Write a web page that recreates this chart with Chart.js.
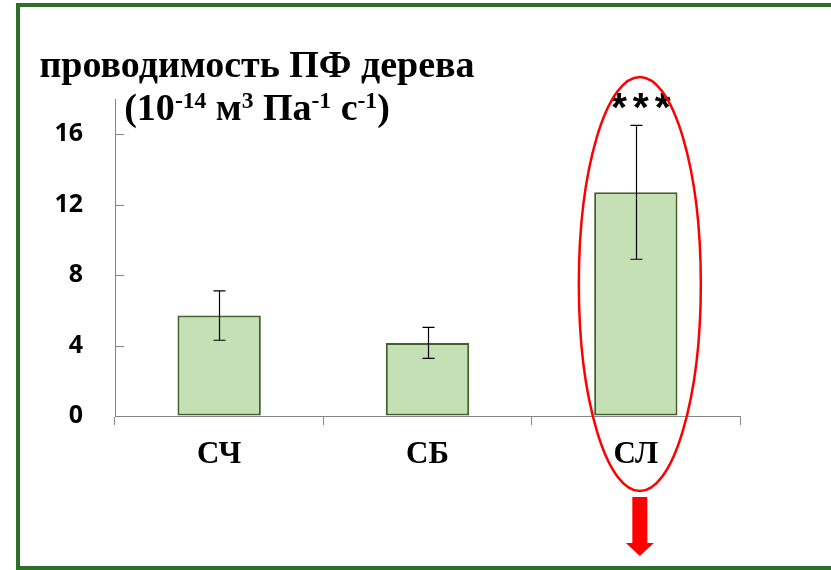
<!DOCTYPE html>
<html>
<head>
<meta charset="utf-8">
<script src="https://cdn.jsdelivr.net/npm/chart.js@4"></script>
<style>
  html, body { margin: 0; padding: 0; background: #fff; }
  #wrap { position: relative; width: 831px; height: 570px; overflow: hidden; }
  #frame { position: absolute; left: 16px; top: 3px; width: 900px; height: 559px;
           border: 4px solid #2e6f2a; }
  canvas { position: absolute; left: 0; top: 0; }
  .ttl { position: absolute; left: 0; width: 514px; text-align: center;
         font-family: "Liberation Serif", "Times New Roman", serif; font-weight: bold;
         font-size: 38px; line-height: 38px; color: #000; white-space: nowrap; }
  .ttl sup { font-size: 0.62em; vertical-align: baseline; position: relative; top: -0.5em; }
</style>
</head>
<body>
<div id="wrap">
  <div id="frame"></div>
  <canvas id="c" width="831" height="570"></canvas>
  <div class="ttl" style="top:45px">проводимость ПФ дерева</div>
  <div class="ttl" style="top:88px">(10<sup>-14</sup> м<sup>3</sup> Па<sup>-1</sup> с<sup>-1</sup>)</div>
</div>
<script>
// Hydraulic conductance of the tree by group
const categories = ['СЧ', 'СБ', 'СЛ'];
const meanValues = [5.7, 4.15, 12.7];
const errValues = [1.4, 0.88, 3.8];
const yTicks = [0, 4, 8, 12, 16];
const significance = ['', '', '***'];
const highlightIndex = 2;

const AXIS_GREY = '#868686';

// error bars drawn from the y scale
const errorBars = {
  id: 'errorBars',
  afterDatasetsDraw(chart) {
    const meta = chart.getDatasetMeta(0);
    const ys = chart.scales.y;
    const ctx = chart.ctx;
    ctx.save();
    ctx.strokeStyle = '#000';
    ctx.lineWidth = 1.2;
    meta.data.forEach((bar, i) => {
      const v = meanValues[i], e = errValues[i];
      const yt = ys.getPixelForValue(v + e);
      const yb = ys.getPixelForValue(v - e);
      const x = Math.round(bar.x) + 0.5;
      ctx.beginPath();
      ctx.moveTo(x, yt); ctx.lineTo(x, yb);
      ctx.moveTo(x - 6, yt); ctx.lineTo(x + 6, yt);
      ctx.moveTo(x - 6, yb); ctx.lineTo(x + 6, yb);
      ctx.stroke();
    });
    ctx.restore();
  }
};

// inward tick marks on the value axis
const innerTicks = {
  id: 'innerTicks',
  afterDraw(chart) {
    const ys = chart.scales.y;
    const left = chart.chartArea.left;
    const ctx = chart.ctx;
    ctx.save();
    ctx.strokeStyle = AXIS_GREY;
    ctx.lineWidth = 1;
    yTicks.forEach(t => {
      const y = Math.round(ys.getPixelForValue(t)) + 0.5;
      ctx.beginPath();
      ctx.moveTo(left, y); ctx.lineTo(left + 9, y);
      ctx.stroke();
    });
    ctx.restore();
  }
};

// significance stars, red ellipse and arrow around the highlighted group
const highlight = {
  id: 'highlight',
  afterDraw(chart) {
    const meta = chart.getDatasetMeta(0);
    const ys = chart.scales.y;
    const ctx = chart.ctx;
    const base = ys.getPixelForValue(0);
    ctx.save();
    meta.data.forEach((bar, i) => {
      if (!significance[i]) return;
      ctx.fillStyle = '#000';
      ctx.font = 'bold 41px "Liberation Sans", Arial, sans-serif';
      ctx.letterSpacing = '6px';
      ctx.textAlign = 'center';
      ctx.textBaseline = 'alphabetic';
      ctx.fillText(significance[i], bar.x + 8, ys.top + 22);
    });
    ctx.letterSpacing = '0px';
    const bar = meta.data[highlightIndex];
    const cx = bar.x + 4;
    const cy = base - 132;
    ctx.strokeStyle = '#ff0000';
    ctx.lineWidth = 2.5;
    ctx.beginPath();
    ctx.ellipse(cx, cy, 61, 207, 0, 0, Math.PI * 2);
    ctx.stroke();
    // arrow pointing down
    const top = base + 81;
    ctx.fillStyle = '#ff0000';
    ctx.beginPath();
    ctx.moveTo(cx - 7.5, top);
    ctx.lineTo(cx + 7.5, top);
    ctx.lineTo(cx + 7.5, top + 46);
    ctx.lineTo(cx + 14, top + 46);
    ctx.lineTo(cx, top + 59);
    ctx.lineTo(cx - 14, top + 46);
    ctx.lineTo(cx - 7.5, top + 46);
    ctx.closePath();
    ctx.fill();
    ctx.restore();
  }
};

new Chart(document.getElementById('c'), {
  type: 'bar',
  data: {
    labels: categories,
    datasets: [{
      data: meanValues,
      backgroundColor: '#c5e0b4',
      borderColor: '#41602a',
      borderWidth: 2,
      borderSkipped: false,
      categoryPercentage: 0.5,
      barPercentage: 0.8
    }]
  },
  options: {
    responsive: false,
    devicePixelRatio: 1,
    animation: false,
    layout: { padding: { left: 20, right: 91, top: 99, bottom: 0 } },
    plugins: { legend: { display: false }, tooltip: { enabled: false }, title: { display: false } },
    scales: {
      x: {
        grid: { display: true, drawOnChartArea: false, drawTicks: true, tickLength: 9,
                color: AXIS_GREY, offset: true },
        border: { display: true, color: AXIS_GREY, width: 1 },
        ticks: { color: '#000', padding: 11,
                 font: { family: '"Liberation Serif", "Times New Roman", serif', weight: 'bold', size: 31 } },
        afterFit(scale) { scale.height = 154; }
      },
      y: {
        min: 0, max: 18,
        grid: { display: true, drawOnChartArea: false, drawTicks: false },
        border: { display: true, color: AXIS_GREY, width: 1 },
        ticks: { stepSize: 4, color: '#000', padding: 32,
                 font: { family: '"Open Sans", Lato, sans-serif', weight: 'bold', size: 25 } },
        afterBuildTicks(scale) { scale.ticks = yTicks.map(v => ({ value: v })); },
        afterFit(scale) { scale.width = 95; }
      }
    }
  },
  plugins: [errorBars, innerTicks, highlight]
});
</script>
</body>
</html>
